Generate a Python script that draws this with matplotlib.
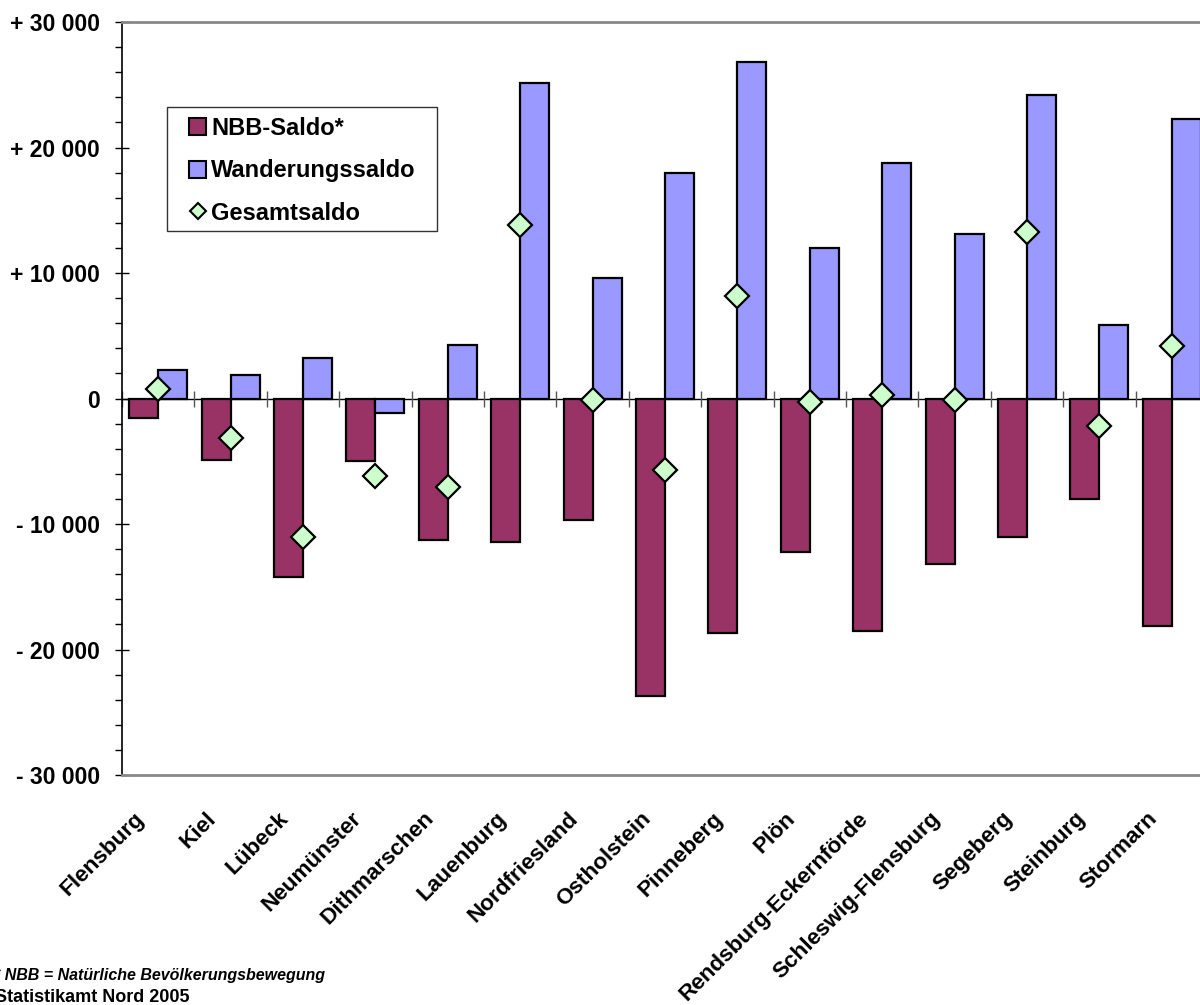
import matplotlib
matplotlib.use("Agg")
import matplotlib.pyplot as plt
import matplotlib.transforms as mtransforms
from matplotlib.patches import Patch, Rectangle
from matplotlib.lines import Line2D
from matplotlib.ticker import MultipleLocator, FuncFormatter
import numpy as np

kreise = ["Flensburg", "Kiel", "Lübeck", "Neumünster", "Dithmarschen",
          "Lauenburg", "Nordfriesland", "Ostholstein", "Pinneberg", "Plön",
          "Rendsburg-Eckernförde", "Schleswig-Flensburg", "Segeberg",
          "Steinburg", "Stormarn"]
nbb_saldo = [-1570, -4920, -14260, -5000, -11280, -11410, -9660, -23700,
             -18680, -12210, -18520, -13170, -11010, -7980, -18120]
wanderungssaldo = [2260, 1840, 3190, -1170, 4230, 25170, 9580, 17960,
                   26810, 11970, 18780, 13090, 24220, 5850, 22280]
gesamtsaldo = [720, -3110, -11040, -6200, -7080, 13800, -80, -5670,
               8140, -240, 260, -80, 13300, -2210, 4180]

plt.rcParams['font.family'] = ['Liberation Sans', 'DejaVu Sans']
plt.rcParams['font.weight'] = 'bold'

dpi = 100
W, H = 1200, 1005
fig = plt.figure(figsize=(W / dpi, H / dpi), dpi=dpi)
ax = fig.add_axes([122 / W, 1 - 775 / H, 1086 / W, 753 / H])

x = np.arange(len(kreise))
bw = 0.4

# erst die Nulllinie, dann die Balken darueber
ax.axhline(0, color='black', lw=1, zorder=1)
ax.plot(np.arange(len(kreise) + 1) - 0.5, np.zeros(len(kreise) + 1),
        linestyle='none', marker='|', markersize=12, markeredgewidth=1,
        color='#555555', zorder=1, clip_on=False)

ax.bar(x - bw / 2, nbb_saldo, width=bw, color='#993366',
       edgecolor='black', linewidth=1.6, zorder=2)
ax.bar(x + bw / 2, wanderungssaldo, width=bw, color='#9999FF',
       edgecolor='black', linewidth=1.6, zorder=2)
ax.plot(x, gesamtsaldo, linestyle='none', marker='D', markersize=12,
        markerfacecolor='#CCFFCC', markeredgecolor='black',
        markeredgewidth=1.6, zorder=3)

ax.set_xlim(-0.5, len(kreise) - 0.5)
ax.set_ylim(-30000, 30000)


def fmt(v, pos):
    v = int(round(v))
    if v == 0:
        return '0'
    s = '{:,}'.format(abs(v)).replace(',', ' ')
    return ('+ ' if v > 0 else '- ') + s


ax.yaxis.set_major_locator(MultipleLocator(10000))
ax.yaxis.set_minor_locator(MultipleLocator(2000))
ax.yaxis.set_major_formatter(FuncFormatter(fmt))
ax.tick_params(axis='y', which='major', direction='inout', length=10,
               width=1, pad=11, labelsize=16.5)
ax.tick_params(axis='y', which='minor', direction='out', length=5, width=1)
for lab in ax.get_yticklabels():
    lab.set_fontweight('bold')

ax.set_xticks([])
ax.spines['left'].set_color('black')
ax.spines['left'].set_linewidth(1.2)
for s in ['top', 'bottom']:
    ax.spines[s].set_color('#888888')
    ax.spines[s].set_linewidth(2)
ax.spines['right'].set_visible(False)

# Kreisnamen schraeg unter der Achse
off = mtransforms.ScaledTranslation(-10 / dpi, -33 / dpi, fig.dpi_scale_trans)
trans = mtransforms.blended_transform_factory(ax.transData, ax.transAxes) + off
for i, name in enumerate(kreise):
    ax.text(x[i], 0, name, transform=trans, rotation=45, ha='right',
            va='top', fontsize=16.2, fontweight='bold')

# Legende: Rahmen separat, damit der Innenabstand links/rechts groesser ist
fig.patches.append(Rectangle((167 / W, 1 - 231 / H), 270 / W, 124 / H,
                             transform=fig.transFigure, facecolor='white',
                             edgecolor='#333333', linewidth=1, zorder=4))
handles = [
    Patch(facecolor='#993366', edgecolor='black', linewidth=1.5),
    Patch(facecolor='#9999FF', edgecolor='black', linewidth=1.5),
    Line2D([], [], linestyle='none', marker='D', markersize=8,
           markerfacecolor='#CCFFCC', markeredgecolor='black',
           markeredgewidth=1.5),
]
leg = fig.legend(handles, ['NBB-Saldo*', 'Wanderungssaldo', 'Gesamtsaldo'],
                 loc='upper left', bbox_to_anchor=(189 / W, 1 - 117 / H),
                 borderaxespad=0, borderpad=0,
                 prop={'size': 17, 'weight': 'bold'}, frameon=False,
                 handlelength=0.72, handleheight=0.72, handletextpad=0.22,
                 labelspacing=0.82)
leg.set_zorder(5)

fig.text(-6 / W, 1 - 980 / H, '* NBB = Natürliche Bevölkerungsbewegung',
         fontsize=11.5, fontweight='bold', fontstyle='italic', va='baseline')
fig.text(-5 / W, 1 - 1002 / H, 'Statistikamt Nord 2005',
         fontsize=13, fontweight='bold', va='baseline')

fig.savefig('out.png', dpi=dpi)
